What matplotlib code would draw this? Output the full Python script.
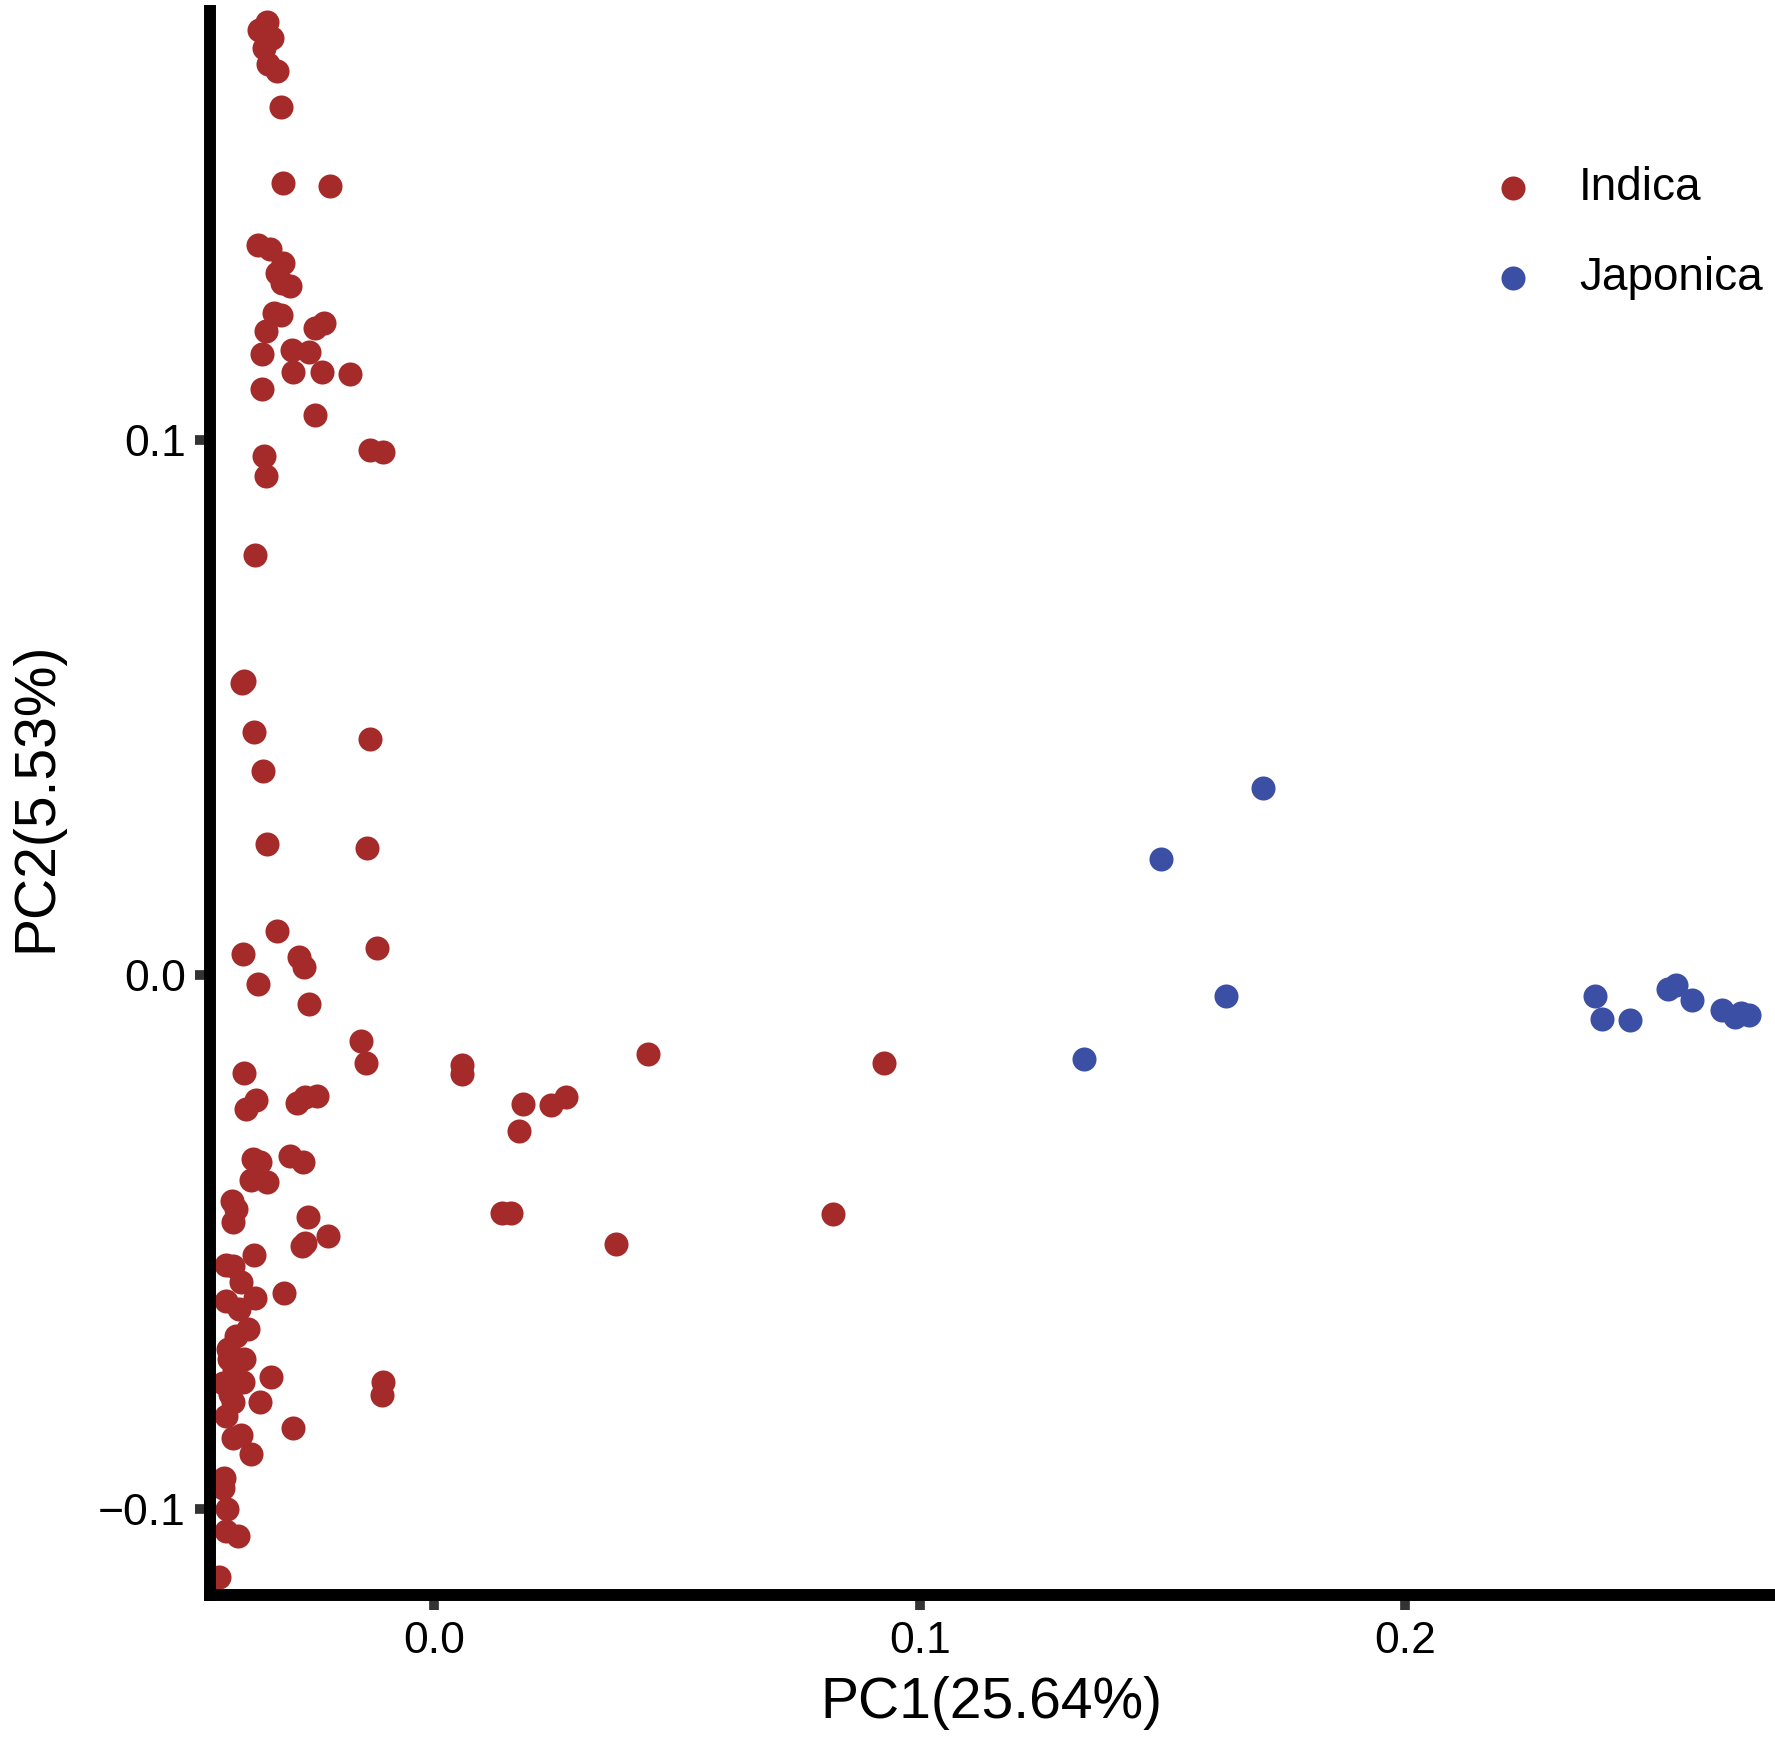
import matplotlib
matplotlib.use("Agg")
import matplotlib.pyplot as plt
import numpy as np

plt.rcParams['font.family'] = ['Liberation Sans', 'DejaVu Sans']

# ---- data ----
indica_pc1 = [
    -0.0345, -0.0361, -0.0335, -0.0351, -0.0343, -0.0325, -0.0316, -0.0312, -0.0214,
    -0.0363, -0.0338, -0.0312, -0.0325, -0.0313, -0.0297, -0.0331, -0.0315, -0.0227,
    -0.0245, -0.0347, -0.0354, -0.0293, -0.0259, -0.0292, -0.0232, -0.0174, -0.0354,
    -0.0245, -0.0351, -0.0347, -0.0132, -0.0106, -0.0370,
    -0.0397, -0.0392, -0.0371, -0.0132, -0.0352, -0.0345, -0.0138, -0.0325, -0.0394,
    -0.0278, -0.0269, -0.0363, -0.0119, -0.0258, -0.0150, -0.0141, -0.0392, -0.0367,
    -0.0388, -0.0283, -0.0266, -0.0242, 0.0056, 0.0058, 0.0182, 0.0175, 0.0241,
    0.0272, 0.0441, 0.0926,
    -0.0374, -0.0358, -0.0297, -0.0271, -0.0377, -0.0345, -0.0417, -0.0408, -0.0415,
    -0.0260, -0.0266, -0.0273, -0.0219, -0.0372, -0.0429, -0.0415, -0.0398, -0.0429,
    -0.0370, -0.0310, -0.0402, -0.0384, -0.0408, -0.0422, -0.0391, -0.0395, -0.0436,
    -0.0336, -0.0415, -0.0360, -0.0429, -0.0292, -0.0415, -0.0398, -0.0377, -0.0433,
    -0.0436, -0.0426, -0.0429, -0.0405, -0.0443, -0.0425, -0.0412, -0.0420,
    -0.0106, -0.0107, 0.0140, 0.0157, 0.0375, 0.0821,
]
indica_pc2 = [
    0.1781, 0.1766, 0.1751, 0.1732, 0.1703, 0.1690, 0.1622, 0.1480, 0.1475,
    0.1365, 0.1357, 0.1331, 0.1313, 0.1293, 0.1288, 0.1237, 0.1234, 0.1219,
    0.1209, 0.1203, 0.1160, 0.1168, 0.1164, 0.1127, 0.1127, 0.1124, 0.1095,
    0.1047, 0.0970, 0.0932, 0.0981, 0.0977, 0.0785,
    0.0545, 0.0549, 0.0453, 0.0440, 0.0381, 0.0244, 0.0237, 0.0081, 0.0038,
    0.0033, 0.0014, -0.0017, 0.0049, -0.0055, -0.0124, -0.0165, -0.0183, -0.0235,
    -0.0251, -0.0240, -0.0228, -0.0226, -0.0168, -0.0186, -0.0241, -0.0292, -0.0244,
    -0.0228, -0.0148, -0.0166,
    -0.0344, -0.0350, -0.0339, -0.0350, -0.0384, -0.0388, -0.0424, -0.0439, -0.0463,
    -0.0453, -0.0501, -0.0508, -0.0488, -0.0525, -0.0543, -0.0544, -0.0575, -0.0610,
    -0.0604, -0.0596, -0.0626, -0.0662, -0.0675, -0.0719, -0.0719, -0.0761, -0.0764,
    -0.0753, -0.0800, -0.0800, -0.0825, -0.0848, -0.0867, -0.0861, -0.0896, -0.0941,
    -0.0960, -0.1000, -0.1040, -0.1050, -0.1126, -0.0700, -0.0740, -0.0785,
    -0.0761, -0.0786, -0.0445, -0.0445, -0.0504, -0.0447,
]
japonica_pc1 = [0.1707, 0.1497, 0.1631, 0.1339, 0.2390, 0.2404, 0.2462, 0.2541,
                0.2558, 0.2590, 0.2652, 0.2678, 0.2692, 0.2708]
japonica_pc2 = [0.0349, 0.0216, -0.0040, -0.0157, -0.0039, -0.0082, -0.0084, -0.0026,
                -0.0020, -0.0048, -0.0067, -0.0080, -0.0072, -0.0075]

groups = ["Indica", "Japonica"]
colors = ["#A52A2A", "#3B4FA5"]
x_ticks = [0.0, 0.1, 0.2]
x_ticklabels = ["0.0", "0.1", "0.2"]
y_ticks = [-0.1, 0.0, 0.1]
y_ticklabels = ["\u22120.1", "0.0", "0.1"]
x_title = "PC1(25.64%)"
y_title = "PC2(5.53%)"

# ---- figure ----
W, H = 1775, 1737
fig = plt.figure(figsize=(W / 100, H / 100), dpi=100)
ax = fig.add_axes([210 / W, 1 - 1595 / H, (1773 - 210) / W, (1595 - 11) / H])

msize = 300
ax.scatter(indica_pc1, indica_pc2, s=msize, color=colors[0], linewidths=0,
           label=groups[0], zorder=3, clip_on=False)
ax.scatter(japonica_pc1, japonica_pc2, s=msize, color=colors[1], linewidths=0,
           label=groups[1], zorder=3, clip_on=False)

ax.set_xlim(-0.0462, 0.2757)
ax.set_ylim(-0.1160, 0.1802)

for side in ["top", "right"]:
    ax.spines[side].set_visible(False)
for side in ["left", "bottom"]:
    ax.spines[side].set_linewidth(8.6)
    ax.spines[side].set_color("black")
    ax.spines[side].set_zorder(4)

ax.set_xticks(x_ticks)
ax.set_xticklabels(x_ticklabels)
ax.set_yticks(y_ticks)
ax.set_yticklabels(y_ticklabels)
ax.tick_params(axis="both", length=10.5, width=7, color="#333333",
               labelsize=32, labelcolor="black")
ax.tick_params(axis="x", pad=8)
ax.tick_params(axis="y", pad=7)

ax.set_xlabel(x_title, fontsize=41)
ax.set_ylabel(y_title, fontsize=41)
ax.xaxis.label.set_va("center")
ax.xaxis.set_label_coords(0.5, -0.0681)
ax.yaxis.label.set_va("center")
ax.yaxis.label.set_ha("center")
ax.yaxis.set_label_coords(-0.1113, 0.504)

leg = ax.legend(loc="center left", bbox_to_anchor=(1490 / W, 1 - 233 / H),
                bbox_transform=fig.transFigure, frameon=False, fontsize=33,
                handlelength=1.0, handletextpad=0.94, labelspacing=0.99,
                borderpad=0, borderaxespad=0, scatterpoints=1)

fig.savefig("out.png", dpi=100, facecolor="white")
